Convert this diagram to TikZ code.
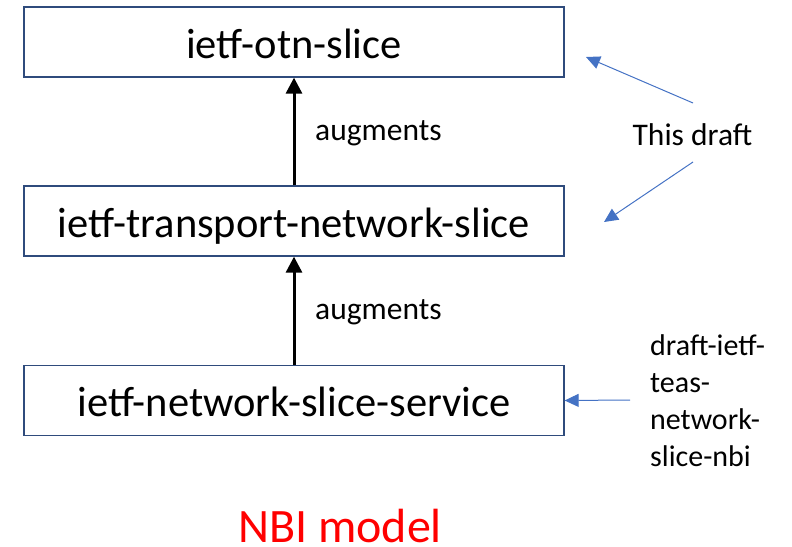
\documentclass[tikz,border=0pt]{standalone}
\usepackage{fontspec}
\setmainfont{Carlito}
\usetikzlibrary{arrows.meta}
\definecolor{boxline}{HTML}{2F4B7C}
\definecolor{noteblue}{HTML}{4472C4}
\definecolor{titlered}{HTML}{FF0000}
\begin{document}
\begin{tikzpicture}[x=1pt,y=-1pt,
  layer/.style={draw=boxline,line width=1.3pt,minimum width=540pt,minimum height=70pt,
    inner sep=0pt,text height=32.4pt,text depth=0pt,font=\fontsize{42.5}{46}\selectfont},
  augarrow/.style={-{Triangle[length=16pt,width=16pt]},line width=3pt,black},
  notearrow/.style={-{Triangle[length=14pt,width=13pt]},line width=1pt,noteblue},
  lbl/.style={font=\fontsize{31.5}{36}\selectfont,inner sep=0pt}]
  \useasboundingbox (0,0) rectangle (792,546);
  % model layers
  \node[layer] (otn) at (294,42) {ietf-otn-slice};
  \node[layer] (tns) at (294,221) {ietf-transport-network-slice};
  \node[layer] (nss) at (294,400.5) {ietf-network-slice-service};
  % augmentation relations
  \draw[augarrow] (tns.north) -- (otn.south);
  \draw[augarrow] (nss.north) -- (tns.south);
  \node[lbl,anchor=base west] (aug1) at (315,140) {augments};
  \node[lbl,anchor=base west] (aug2) at (315,319) {augments};
  % annotations
  \node[lbl,anchor=base] (draft) at (692.5,145) {This draft};
  \coordinate (d1) at (693,103);
  \coordinate (d2) at (693,162);
  \coordinate (t1) at (586,57);
  \coordinate (t2) at (604,222);
  \draw[notearrow] (d1) -- (t1);
  \draw[notearrow] (d2) -- (t2);
  \node[lbl,anchor=base west,align=left,font=\fontsize{30}{37}\selectfont] (nbi) at (650,466)
    {draft-ietf-\\teas-\\network-\\slice-nbi};
  \coordinate (n1) at (630,400);
  \draw[notearrow] (n1) -- (nss.east);
  % caption
  \node[font=\fontsize{48}{52}\selectfont,text=titlered,anchor=base,inner sep=0pt] (cap) at (340,542) {NBI model};
\end{tikzpicture}
\end{document}
